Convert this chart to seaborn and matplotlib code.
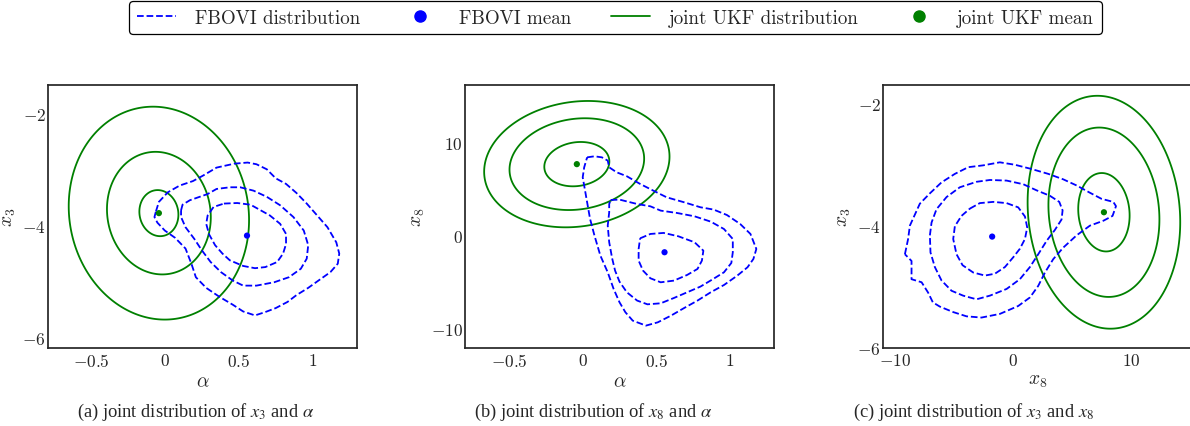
import numpy as np
import pandas as pd
import matplotlib
matplotlib.use("Agg")
import matplotlib.pyplot as plt
from matplotlib.lines import Line2D
import seaborn as sns

# ---------------------------------------------------------------- data
# posterior means of (alpha, x3, x8)
fbovi_mean = {"alpha": 0.556, "x3": -4.18, "x8": -1.78}
ukf_mean = {"alpha": -0.04, "x3": -3.78, "x8": 7.66}

# (x variable, y variable) for each panel
panel_vars = [("alpha", "x3"), ("alpha", "x8"), ("x8", "x3")]
panel_xlabels = [r"$\alpha$", r"$\alpha$", r"$x_8$"]
panel_ylabels = [r"$x_3$", r"$x_8$", r"$x_3$"]
panel_captions = [
    r"(a) joint distribution of $x_3$ and $\alpha$",
    r"(b) joint distribution of $x_8$ and $\alpha$",
    r"(c) joint distribution of $x_3$ and $x_8$",
]
panel_xlims = [(-0.79, 1.30), (-0.80, 1.30), (-11.0, 15.1)]
panel_ylims = [(-6.18, -1.50), (-12.04, 16.14), (-6.01, -1.69)]
panel_xticks = [[-0.5, 0, 0.5, 1], [-0.5, 0, 0.5, 1], [-10, 0, 10]]
panel_xticklabels = [["$-0.5$", "$0$", "$0.5$", "$1$"],
                     ["$-0.5$", "$0$", "$0.5$", "$1$"],
                     ["$-10$", "$0$", "$10$"]]
panel_yticks = [[-6, -4, -2], [-10, 0, 10], [-6, -4, -2]]
panel_yticklabels = [["$-6$", "$-4$", "$-2$"],
                     ["$-10$", "$0$", "$10$"],
                     ["$-6$", "$-4$", "$-2$"]]

# joint UKF Gaussian per panel: std devs (x, y), correlation, contour radii
ukf_sd = [(0.132, 0.41), (0.221, 2.375), (2.17, 0.644)]
ukf_rho = [-0.065, 0.12, -0.085]
ukf_radii = [(1.0, 2.66, 4.62), (1.0, 2.07, 2.85), (1.0, 2.16, 2.97)]

# FBOVI density contours (inner, middle, outer level), panel (a): (alpha, x3)
fbovi_a_inner = [(0.40, -3.61), (0.49, -3.60), (0.58, -3.63), (0.71, -3.82), (0.78, -3.97),
                 (0.82, -4.15), (0.82, -4.33), (0.80, -4.50), (0.76, -4.65), (0.68, -4.74),
                 (0.61, -4.76), (0.53, -4.72), (0.44, -4.62), (0.39, -4.50), (0.34, -4.35),
                 (0.30, -4.16), (0.28, -3.97), (0.29, -3.82), (0.33, -3.67)]
fbovi_a_middle = [(0.11, -3.73), (0.12, -3.63), (0.17, -3.55), (0.29, -3.44), (0.35, -3.35),
                  (0.44, -3.32), (0.51, -3.32), (0.60, -3.38), (0.69, -3.49), (0.78, -3.64),
                  (0.87, -3.85), (0.94, -4.09), (0.97, -4.35), (0.96, -4.59), (0.92, -4.77),
                  (0.84, -4.92), (0.74, -5.01), (0.62, -5.07), (0.53, -5.07), (0.46, -4.98),
                  (0.38, -4.83), (0.31, -4.65), (0.25, -4.44), (0.20, -4.24), (0.14, -4.03),
                  (0.11, -3.85)]
fbovi_a_outer = [(-0.06, -3.75), (-0.04, -3.58), (0.02, -3.41), (0.10, -3.29), (0.19, -3.21),
                 (0.26, -3.11), (0.35, -2.97), (0.47, -2.90), (0.56, -2.88), (0.62, -2.91),
                 (0.69, -3.00), (0.75, -3.16), (0.82, -3.26), (0.89, -3.42), (0.96, -3.61),
                 (1.03, -3.82), (1.10, -4.03), (1.16, -4.30), (1.18, -4.50), (1.17, -4.68),
                 (1.12, -4.83), (1.05, -4.96), (0.97, -5.11), (0.89, -5.24), (0.83, -5.36),
                 (0.75, -5.47), (0.68, -5.54), (0.61, -5.60), (0.53, -5.53), (0.46, -5.41),
                 (0.37, -5.27), (0.28, -5.11), (0.21, -4.92), (0.18, -4.68), (0.14, -4.41),
                 (0.07, -4.22), (0.00, -4.09), (-0.05, -3.95), (-0.07, -3.85)]

# panel (b): (alpha, x8)
fbovi_b_inner = [(0.39, -0.29), (0.46, 0.18), (0.55, 0.29), (0.65, -0.07), (0.76, -0.71),
                 (0.82, -1.61), (0.81, -2.68), (0.78, -3.57), (0.71, -4.21), (0.62, -4.82),
                 (0.53, -5.00), (0.46, -4.57), (0.41, -3.75), (0.38, -2.68), (0.38, -1.43)]
fbovi_b_middle = [(0.19, 3.82), (0.25, 3.86), (0.37, 3.39), (0.46, 3.14), (0.53, 2.68),
                  (0.64, 2.43), (0.76, 2.07), (0.87, 1.50), (0.96, 0.71), (1.02, -0.36),
                  (1.02, -1.79), (1.01, -2.93), (0.96, -3.93), (0.88, -4.71), (0.80, -5.46),
                  (0.71, -6.07), (0.62, -6.68), (0.53, -7.25), (0.44, -7.36), (0.37, -6.96),
                  (0.30, -6.07), (0.25, -4.93), (0.22, -3.75), (0.20, -2.43), (0.18, -0.71),
                  (0.17, 1.07), (0.18, 2.50), (0.18, 3.39)]
fbovi_b_outer = [(0.03, 8.39), (0.08, 8.50), (0.13, 8.39), (0.17, 8.04), (0.18, 7.32),
                 (0.23, 6.79), (0.30, 6.36), (0.39, 5.54), (0.48, 4.82), (0.57, 4.11),
                 (0.69, 3.57), (0.80, 3.04), (0.89, 2.79), (0.98, 2.21), (1.07, 1.25),
                 (1.14, 0.18), (1.18, -1.43), (1.16, -2.50), (1.12, -3.39), (1.05, -4.29),
                 (0.96, -5.29), (0.87, -6.07), (0.78, -6.96), (0.69, -7.75), (0.60, -8.57),
                 (0.51, -9.29), (0.43, -9.64), (0.34, -9.11), (0.29, -8.21), (0.25, -7.14),
                 (0.21, -5.71), (0.17, -3.93), (0.12, -2.14), (0.08, 0.00), (0.05, 1.79),
                 (0.03, 3.57), (0.01, 5.36), (0.00, 6.25), (0.01, 7.32)]

# panel (c): (x8, x3)
fbovi_c_inner = [(-3.66, -3.72), (-2.82, -3.63), (-1.69, -3.61), (-0.56, -3.63), (0.42, -3.70),
                 (0.99, -3.85), (1.18, -4.03), (0.99, -4.22), (0.56, -4.38), (0.00, -4.52),
                 (-0.70, -4.68), (-1.55, -4.79), (-2.39, -4.82), (-3.38, -4.77), (-4.28, -4.65),
                 (-4.79, -4.47), (-5.07, -4.22), (-4.93, -4.01), (-4.37, -3.84)]
fbovi_c_middle = [(-7.04, -4.16), (-6.90, -3.95), (-6.48, -3.73), (-5.63, -3.53), (-4.51, -3.37),
                  (-3.10, -3.28), (-1.97, -3.25), (-0.56, -3.26), (0.85, -3.32), (1.97, -3.42),
                  (3.10, -3.51), (3.89, -3.61), (4.17, -3.75), (4.08, -3.90), (3.52, -4.07),
                  (2.82, -4.25), (2.11, -4.47), (1.41, -4.68), (0.56, -4.88), (-0.56, -5.04),
                  (-1.97, -5.15), (-3.10, -5.21), (-4.23, -5.15), (-5.21, -5.07), (-6.06, -4.90),
                  (-6.62, -4.68), (-6.99, -4.44)]
fbovi_c_outer = [(-9.15, -4.47), (-8.88, -4.22), (-8.73, -4.00), (-7.89, -3.64), (-7.04, -3.47),
                 (-6.06, -3.29), (-4.93, -3.15), (-3.80, -3.04), (-2.54, -3.01), (-1.13, -2.96),
                 (0.14, -3.00), (1.55, -3.07), (2.96, -3.15), (4.23, -3.24), (5.35, -3.34),
                 (6.48, -3.46), (7.46, -3.56), (8.45, -3.61), (8.68, -3.68), (8.39, -3.84),
                 (7.61, -3.92), (6.48, -4.00), (5.35, -4.16), (4.23, -4.36), (3.38, -4.55),
                 (2.68, -4.77), (2.11, -4.99), (1.41, -5.18), (0.42, -5.32), (-1.13, -5.45),
                 (-2.68, -5.51), (-3.94, -5.49), (-5.07, -5.42), (-6.20, -5.33), (-6.79, -5.26),
                 (-7.19, -5.10), (-7.74, -4.93), (-8.59, -4.88), (-8.59, -4.58)]

fbovi_contours = [
    [fbovi_a_inner, fbovi_a_middle, fbovi_a_outer],
    [fbovi_b_inner, fbovi_b_middle, fbovi_b_outer],
    [fbovi_c_inner, fbovi_c_middle, fbovi_c_outer],
]

legend_labels = ["FBOVI distribution", "FBOVI mean",
                 "joint UKF distribution", "joint UKF mean"]

# ---------------------------------------------------------------- style
FBOVI_COLOR = "blue"
UKF_COLOR = "green"
LW = 1.3

sns.set_theme(style="white")
plt.rcParams.update({
    "font.family": "serif",
    "font.serif": ["cmr10"],
    "mathtext.fontset": "cm",
    "axes.formatter.use_mathtext": True,
    "axes.edgecolor": "0.15",
    "axes.linewidth": 1.25,
    "xtick.bottom": False,
    "ytick.left": False,
    "xtick.major.size": 0,
    "ytick.major.size": 0,
    "xtick.major.pad": 3.0,
    "ytick.major.pad": 1.5,
})

fig = plt.figure(figsize=(11.9, 4.27), dpi=100)
W, H = 1190.0, 427.0
axes_left_px = [48, 465, 883]
axes_w_px, axes_top_px, axes_bottom_px = 309, 86, 349
caption_x_px = [195.5, 593, 974]


def draw_ukf(ax, i):
    xv, yv = panel_vars[i]
    mx, my = ukf_mean[xv], ukf_mean[yv]
    sx, sy = ukf_sd[i]
    rho = ukf_rho[i]
    gx, gy = np.meshgrid(np.linspace(*panel_xlims[i], 600),
                         np.linspace(*panel_ylims[i], 600))
    zx, zy = (gx - mx) / sx, (gy - my) / sy
    d2 = (zx ** 2 - 2 * rho * zx * zy + zy ** 2) / (1 - rho ** 2)
    ax.contour(gx, gy, d2, levels=[r ** 2 for r in ukf_radii[i]],
               colors=UKF_COLOR, linewidths=LW, linestyles="solid")


def draw_fbovi(ax, i):
    for path in fbovi_contours[i]:
        closed = pd.DataFrame(path + path[:1], columns=["x", "y"])
        sns.lineplot(data=closed, x="x", y="y", sort=False, estimator=None,
                     color=FBOVI_COLOR, linestyle="--", linewidth=LW, ax=ax)


for i in range(3):
    ax = fig.add_axes([axes_left_px[i] / W, 1 - axes_bottom_px / H,
                       axes_w_px / W, (axes_bottom_px - axes_top_px) / H])
    draw_ukf(ax, i)
    draw_fbovi(ax, i)
    xv, yv = panel_vars[i]
    sns.scatterplot(x=[fbovi_mean[xv]], y=[fbovi_mean[yv]], color=FBOVI_COLOR,
                    s=20, edgecolor="none", ax=ax, zorder=4)
    sns.scatterplot(x=[ukf_mean[xv]], y=[ukf_mean[yv]], color=UKF_COLOR,
                    s=20, edgecolor="none", ax=ax, zorder=4)
    ax.set_xlim(*panel_xlims[i])
    ax.set_ylim(*panel_ylims[i])
    ax.set_xticks(panel_xticks[i], panel_xticklabels[i], fontsize=12.5)
    ax.set_yticks(panel_yticks[i], panel_yticklabels[i], fontsize=12.5)
    ax.set_xlabel(panel_xlabels[i], fontsize=14, labelpad=2)
    ax.set_ylabel(panel_ylabels[i], fontsize=14, labelpad=3)
    for sp in ax.spines.values():
        sp.set_visible(True)
    fig.text(caption_x_px[i] / W, 1 - 412 / H, panel_captions[i],
             ha="center", va="center", fontsize=13.3,
             family="Liberation Serif", math_fontfamily="stix")

handles = [
    Line2D([], [], color=FBOVI_COLOR, linestyle="--", linewidth=LW),
    Line2D([], [], color=FBOVI_COLOR, marker="o", linestyle="none", markersize=8),
    Line2D([], [], color=UKF_COLOR, linestyle="-", linewidth=LW),
    Line2D([], [], color=UKF_COLOR, marker="o", linestyle="none", markersize=8),
]
leg = fig.legend(handles, legend_labels, loc="center", ncol=4,
                 bbox_to_anchor=(615.5 / W, 1 - 18.5 / H), fontsize=13.7,
                 handlelength=2.06, handletextpad=1.0, columnspacing=2.1,
                 borderpad=0.4, frameon=True, fancybox=True, framealpha=1.0,
                 edgecolor="black")
leg.get_frame().set_linewidth(0.9)

fig.savefig("out.png", dpi=100)
